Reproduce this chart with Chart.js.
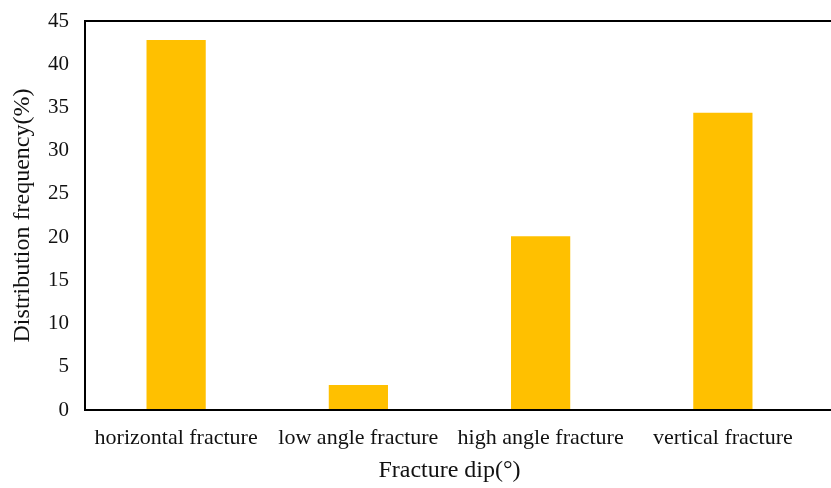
<!DOCTYPE html>
<html>
<head>
<meta charset="utf-8">
<script src="https://cdn.jsdelivr.net/npm/chart.js@4/dist/chart.umd.min.js"></script>
<style>
  html, body { margin: 0; padding: 0; background: #fff; }
  #wrap { width: 831px; height: 488px; }
</style>
</head>
<body>
<div id="wrap"><canvas id="chart"></canvas></div>
<script>
// chart data
const categories = ['horizontal fracture', 'low angle fracture', 'high angle fracture', 'vertical fracture'];
const frequency = [42.8, 2.9, 20.1, 34.4];
const yTicks = [0, 5, 10, 15, 20, 25, 30, 35, 40, 45];

const textColor = '#111';
const serif = '"Liberation Serif", "Times New Roman", serif';

// frame: left axis plus top/bottom lines running to the canvas edge
const framePlugin = {
    id: 'frame',
    afterDraw(chart) {
        const { ctx, chartArea: a } = chart;
        ctx.save();
        ctx.strokeStyle = '#000';
        ctx.lineWidth = 2;
        ctx.beginPath();
        ctx.moveTo(chart.width, a.top);
        ctx.lineTo(a.left, a.top);
        ctx.lineTo(a.left, a.bottom);
        ctx.lineTo(chart.width, a.bottom);
        ctx.stroke();
        ctx.restore();
    }
};

const ctx = document.getElementById('chart').getContext('2d');
const chart = new Chart(ctx, {
    type: 'bar',
    data: {
        labels: categories,
        datasets: [{
            data: frequency,
            backgroundColor: '#FFC000',
            borderWidth: 0,
            barPercentage: 0.65,
            categoryPercentage: 0.5
        }]
    },
    options: {
        responsive: true,
        maintainAspectRatio: false,
        animation: false,
        layout: { padding: { left: 4, top: 21, right: 17, bottom: 0 } },
        plugins: {
            legend: { display: false },
            tooltip: { enabled: false }
        },
        scales: {
            x: {
                grid: { display: false, drawTicks: false },
                border: { display: false },
                ticks: {
                    color: textColor,
                    font: { family: serif, size: 22 },
                    padding: 15,
                    maxRotation: 0
                },
                title: {
                    display: true,
                    text: 'Fracture dip(°)',
                    color: textColor,
                    font: { family: serif, size: 24 },
                    padding: { top: 4, bottom: 3 }
                },
                afterFit(scale) {
                    scale.height = 78;
                    scale.paddingLeft = 0;
                    scale.paddingRight = 0;
                }
            },
            y: {
                min: 0,
                max: 45,
                grid: { display: false, drawTicks: false },
                border: { display: false },
                afterBuildTicks(scale) { scale.ticks = yTicks.map(v => ({ value: v })); },
                ticks: {
                    color: textColor,
                    font: { family: serif, size: 21 },
                    padding: 16
                },
                title: {
                    display: true,
                    text: 'Distribution frequency(%)',
                    color: textColor,
                    font: { family: serif, size: 24 },
                    padding: { top: 4, bottom: 0 }
                },
                afterFit(scale) {
                    scale.width = 81;
                    scale.paddingTop = 0;
                    scale.paddingBottom = 0;
                }
            }
        }
    },
    plugins: [framePlugin]
});
</script>
</body>
</html>
